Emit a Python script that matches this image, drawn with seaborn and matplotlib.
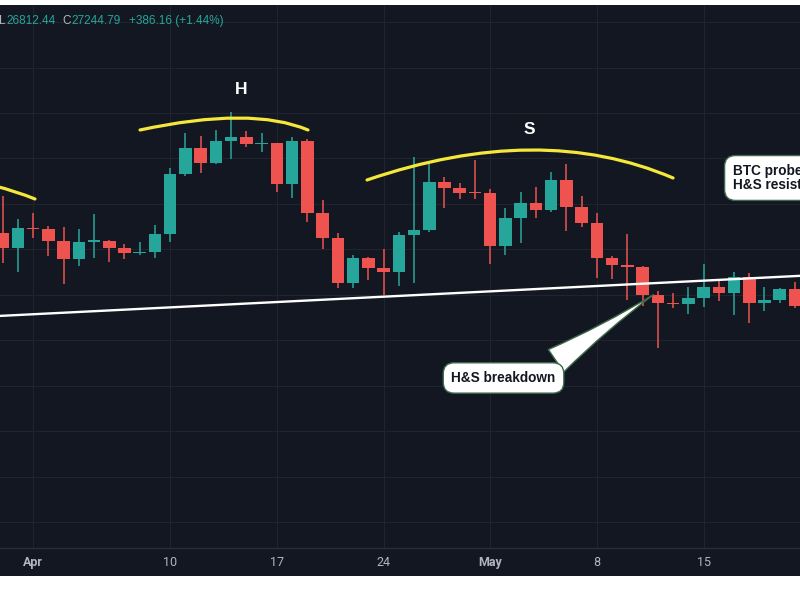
import numpy as np
import pandas as pd
import matplotlib
matplotlib.use("Agg")
import matplotlib.pyplot as plt
import matplotlib.dates as mdates
from matplotlib.path import Path
from matplotlib.patches import PathPatch, Rectangle
import seaborn as sns

# ---------------- data (BTC/USD daily) ----------------
dates = pd.date_range("2023-03-30", "2023-05-21", freq="D")
opens = [28360, 28030, 28470, 28450, 28190, 27790, 28170, 28180, 28040, 27920,
         27950, 28330, 29650, 30230, 29890, 30390, 30480, 30320, 30330, 29440,
         30390, 28810, 28250, 27260, 27820, 27590, 27510, 28310, 28430, 29480,
         29340, 29250, 29230, 28070, 28680, 29030, 28860, 29530, 28930, 28590,
         27800, 27650, 27620, 26990, 26810, 26790, 26930, 27170, 27040, 27400,
         26830, 26890, 27120]
highs = [29170, 28660, 28810, 28520, 28500, 28440, 28780, 28210, 28110, 28160,
         28540, 29780, 30570, 30490, 30630, 31030, 30610, 30570, 30340, 30480,
         30420, 29090, 28370, 27880, 27830, 28010, 28390, 30030, 29890, 29600,
         29460, 29960, 29330, 28900, 29260, 29370, 29700, 29880, 29170, 28800,
         27850, 28330, 27640, 27080, 27040, 27180, 27680, 27300, 27500, 27470,
         27180, 27150, 27280]
lows = [27710, 27510, 28240, 27860, 27230, 27630, 27820, 27720, 27780, 27880,
        27800, 28170, 29610, 29690, 29870, 29980, 30250, 30150, 29270, 29120,
        28610, 28000, 27160, 27150, 27330, 26990, 27190, 27250, 28390, 28920,
        29110, 29100, 27670, 27880, 28130, 28690, 28820, 28400, 28500, 27370,
        27340, 26880, 26750, 25820, 26700, 26580, 26740, 26860, 26560, 26370,
        26650, 26830, 26700]
closes = [28030, 28470, 28450, 28190, 27790, 28170, 28180, 28040, 27920, 27950,
          28330, 29650, 30230, 29890, 30390, 30480, 30320, 30330, 29440, 30390,
          28810, 28250, 27260, 27820, 27590, 27510, 28310, 28430, 29480, 29340,
          29250, 29230, 28070, 28680, 29030, 28860, 29530, 28930, 28590, 27800,
          27650, 27620, 26990, 26810, 26790, 26930, 27170, 27040, 27400, 26830,
          26890, 27120, 26750]

tick_dates = ["2023-04-01", "2023-04-10", "2023-04-17", "2023-04-24",
              "2023-05-01", "2023-05-08", "2023-05-15"]
tick_labels = ["Apr", "10", "17", "24", "May", "8", "15"]

# neckline and arcs (date, price) anchors
neck_dates = ["2023-03-29 12:00", "2023-05-21 12:00"]
neck_prices = [26530, 27420]
lshoulder = [("2023-03-29 12:00", 29394), ("2023-03-30 20:00", 29284), ("2023-04-01 03:00", 29108)]
head_arc = [("2023-04-08 00:30", 30626), ("2023-04-15 08:00", 31154), ("2023-04-19 01:00", 30626)]
shoulder_arc = [("2023-04-22 22:00", 29526), ("2023-05-04 06:00", 30824), ("2023-05-13 00:00", 29570)]

header_parts = [("L", "#b2b5be"), ("26812.44", "#26a69a"), ("C", "#b2b5be"),
                ("27244.79", "#26a69a"), ("+386.16 (+1.44%)", "#26a69a")]
header_x_px = [-1, 6, 62, 71, 129]

# ---------------- style ----------------
BG = "#131722"
GRID = "#20242f"
UP = "#26a69a"
DOWN = "#ef5350"
YEL = "#f5e83a"

sns.set_theme(style="dark", rc={"axes.facecolor": BG, "grid.color": GRID})
plt.rcParams["font.family"] = ["Liberation Sans", "DejaVu Sans"]

fig = plt.figure(figsize=(8, 6), dpi=100, facecolor="white")
fig.patches.append(Rectangle((0, 24 / 600), 1, 571 / 600, transform=fig.transFigure,
                             facecolor=BG, edgecolor="none", zorder=-5))
ax = fig.add_axes([0, 52 / 600, 1, 543 / 600])
ax.set_zorder(2)
ax.set_facecolor(BG)

x = mdates.date2num(dates)
o = np.array(opens); h = np.array(highs); l = np.array(lows); c = np.array(closes)
up = c >= o
cols = np.where(up, UP, DOWN)
body_bottom = np.minimum(o, c)
body_h = np.maximum(np.abs(c - o), 28)

ax.vlines(x, l, h, colors=cols, lw=1.1, zorder=2)
ax.bar(x, body_h, bottom=body_bottom, width=0.82, color=cols, edgecolor="none", zorder=3)

# neckline
nx = mdates.date2num(pd.to_datetime(neck_dates))
sns.lineplot(x=nx, y=neck_prices, color="white", lw=1.7, ax=ax, zorder=4)

# yellow arcs
for arc in (lshoulder, head_arc, shoulder_arc):
    pts = [(mdates.date2num(pd.Timestamp(d)), p) for d, p in arc]
    path = Path(pts, [Path.MOVETO, Path.CURVE3, Path.CURVE3])
    ax.add_patch(PathPatch(path, fill=False, ec=YEL, lw=2.3, capstyle="round", zorder=5))

# H / S labels
ax.text(mdates.date2num(pd.Timestamp("2023-04-14 15:40")), 31506, "H", color="white",
        fontsize=12.5, fontweight="bold", ha="center", va="center", zorder=6)
ax.text(mdates.date2num(pd.Timestamp("2023-05-03 14:00")), 30626, "S", color="white",
        fontsize=12.5, fontweight="bold", ha="center", va="center", zorder=6)

# callouts
box = dict(boxstyle="round,pad=0.6,rounding_size=0.8", fc="white", ec="#3d6b4a", lw=1)
ax.annotate("H&S breakdown",
            xy=(mdates.date2num(pd.Timestamp("2023-05-11 21:00")), 27040),
            xytext=(mdates.date2num(pd.Timestamp("2023-05-01 21:00")), 25170),
            ha="center", va="center", fontsize=9.8, fontweight="bold", color="#131722",
            bbox=box, zorder=7,
            arrowprops=dict(arrowstyle="wedge,tail_width=2.0,shrink_factor=0.35",
                            relpos=(0.82, 0.8), fc="white", ec="#3d6b4a", lw=1))
ax.text(mdates.date2num(pd.Timestamp("2023-05-16 22:00")), 29570, "BTC probes\nH&S resistance",
        ha="left", va="center", fontsize=9.8, fontweight="bold", color="#131722",
        linespacing=1.05, bbox=box, zorder=7)

# axes
ax.set_xlim(mdates.date2num(pd.Timestamp("2023-04-01")) - 2.17,
            mdates.date2num(pd.Timestamp("2023-04-01")) + 50.33)
ax.set_ylim(21429, 33376)
ax.set_yticks(np.arange(22000, 34000, 1000))
ax.set_xticks(mdates.date2num(pd.to_datetime(tick_dates)))
ax.set_xticklabels(tick_labels)
ax.grid(True, color=GRID, lw=0.8, zorder=0)
ax.set_axisbelow(True)
ax.tick_params(axis="y", length=0, labelleft=False)
ax.tick_params(axis="x", length=0, pad=6, labelsize=9, labelcolor="#b2b5be")
for lab in ax.get_xticklabels():
    lab.set_fontfamily(["Roboto", "DejaVu Sans"])
    if lab.get_text() in ("Apr", "May"):
        lab.set_fontweight("bold")
for s in ("top", "left", "right"):
    ax.spines[s].set_visible(False)
ax.spines["bottom"].set_color("#2a2e39")
ax.spines["bottom"].set_linewidth(1)
ax.set_xlabel(""); ax.set_ylabel("")

# header
for (txt, col), px in zip(header_parts, header_x_px):
    fig.text(px / 800, 1 - 21 / 600, txt, color=col, fontsize=8.5, va="center", ha="left",
             zorder=10)

fig.savefig("out.png", dpi=100, facecolor="white")
